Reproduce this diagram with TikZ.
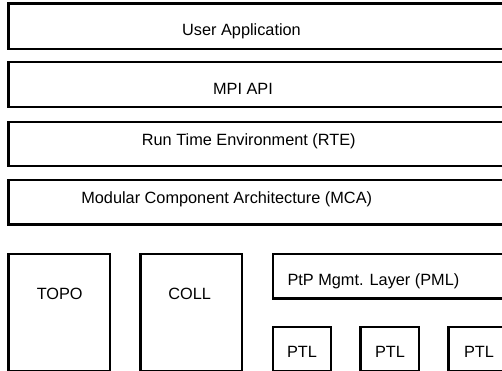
\documentclass[tikz,border=0pt]{standalone}
\usepackage{fontspec}
\setmainfont{Liberation Sans}
\begin{document}
\begin{tikzpicture}[x=1pt,y=-1pt,
  box/.style={draw=black,line width=2.3pt,inner sep=0pt,outer sep=0pt,anchor=north west,rectangle},
  lbl/.style={inner sep=0pt,font=\fontsize{16.3}{19}\selectfont,anchor=base}]
\useasboundingbox (0,0) rectangle (502,370);
\clip (0,0) rectangle (502,370);
% layered boxes
\node[box,minimum width=506.4pt,minimum height=45.3pt] (ua) at (8.6,3.5) {};
\node[box,minimum width=506.4pt,minimum height=44.8pt] (mpi) at (8.6,62.2) {};
\node[box,minimum width=506.4pt,minimum height=44pt] (rte) at (8.6,122.2) {};
\node[box,minimum width=506.4pt,minimum height=44.5pt] (mca) at (8.6,180) {};
% bottom row
\node[box,minimum width=101.7pt,minimum height=117pt] (topo) at (8.6,253.8) {};
\node[box,minimum width=101.4pt,minimum height=117pt] (coll) at (140.6,253.8) {};
\node[box,minimum width=242pt,minimum height=44.7pt] (pml) at (272.8,253.8) {};
\node[box,minimum width=58.5pt,minimum height=44pt] (ptla) at (272.8,327) {};
\node[box,minimum width=58.5pt,minimum height=44pt] (ptlb) at (360.6,327) {};
\node[box,minimum width=58.5pt,minimum height=44pt] (ptlc) at (448.6,327) {};
% labels
\node[lbl] (tua) at (241.5,35) {User Application};
\node[lbl] (tmpi) at (243,94.3) {MPI API};
\node[lbl] (trte) at (248.8,145) {Run Time Environment (RTE)};
\node[lbl] (tmca) at (226.7,203.3) {Modular Component Architecture (MCA)};
\node[lbl] (ttopo) at (59.7,299) {TOPO};
\node[lbl] (tcoll) at (189.7,299) {COLL};
\node[lbl,anchor=base west] (tpml) at (287.3,285) {PtP Mgmt. Layer (PML)};
\node[lbl] (tptla) at (302,357.7) {PTL};
\node[lbl] (tptlb) at (390,357.7) {PTL};
\node[lbl] (tptlc) at (479,357.7) {PTL};
\end{tikzpicture}
\end{document}
